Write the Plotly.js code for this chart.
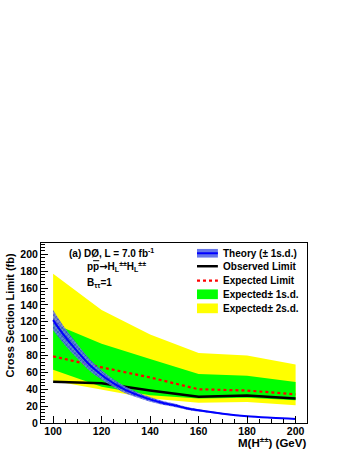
<!DOCTYPE html>
<html>
<head>
<meta charset="utf-8">
<script src="https://cdn.plot.ly/plotly-3.0.1.min.js"></script>
<style>
  html, body { margin: 0; padding: 0; background: #fff; }
  #chart { width: 349px; height: 451px; }
</style>
</head>
<body>
<div id="chart"></div>
<script>
// mass points of the limit (GeV)
const massPoints = [100, 120, 140, 160, 180, 200];
const observedLimit = [49, 47, 38.5, 31, 32.5, 29];
const expectedLimit = [79, 66, 54, 40, 38.5, 34];
const expected1sdLow = [63, 43, 33, 29, 30, 27];
const expected1sdHigh = [118, 94, 76, 58, 56, 48.5];
const expected2sdLow = [50, 39.5, 29, 24, 25, 21];
const expected2sdHigh = [177, 134, 105, 83, 80, 69.5];

// theory cross section (fb)
const theoryMass = [100, 105, 110, 115, 120, 125, 130, 135, 140, 145, 150, 155, 160, 170, 180, 190, 200];
const theoryXsec = [122, 102, 85, 69, 57, 47, 39, 33, 28, 24, 21, 17.5, 15, 11, 8, 6.2, 4.8];
const theoryLow = [110, 92, 76.5, 62, 51.5, 42.5, 35, 29.8, 25.2, 21.6, 19, 15.8, 13.6, 10, 7.3, 5.6, 4.3];
const theoryHigh = [134, 112, 93.5, 76, 62.5, 51.5, 43, 36.2, 30.8, 26.4, 23, 19.2, 16.4, 12, 8.7, 6.8, 5.3];

const legendLabels = ["Theory (\u00b1 1s.d.)", "Observed Limit", "Expected Limit", "Expected\u00b1 1s.d.", "Expected\u00b1 2s.d."];

const font = "Liberation Sans, Arial, Helvetica, sans-serif";

const traces = [
  // 2 s.d. band
  { x: massPoints, y: expected2sdLow, mode: "lines", line: { width: 0 } },
  { x: massPoints, y: expected2sdHigh, mode: "lines", line: { width: 0 }, fill: "tonexty", fillcolor: "#ffff00" },
  // 1 s.d. band
  { x: massPoints, y: expected1sdLow, mode: "lines", line: { width: 0 } },
  { x: massPoints, y: expected1sdHigh, mode: "lines", line: { width: 0 }, fill: "tonexty", fillcolor: "#00ff00" },
  // observed and expected limits
  { x: massPoints, y: observedLimit, mode: "lines", line: { color: "#000", width: 2.5 } },
  { x: massPoints, y: expectedLimit, mode: "lines", line: { color: "#ff0000", width: 2.2, dash: "dot" } },
  // theory band and central value
  { x: theoryMass, y: theoryLow, mode: "lines", line: { width: 0, shape: "spline" } },
  {
    x: theoryMass, y: theoryHigh, mode: "lines", line: { width: 0, shape: "spline" },
    fill: "tonexty", fillcolor: "rgba(70,90,225,0.8)",
    fillpattern: { shape: "x", fgcolor: "#1d2fd0", bgcolor: "rgba(110,125,235,0.85)", size: 3, solidity: 0.35 }
  },
  { x: theoryMass, y: theoryXsec, mode: "lines", line: { color: "#0000ff", width: 2, shape: "spline" } }
];

// hand-drawn legend, ROOT style
const rowY = [0.943, 0.871, 0.791, 0.715, 0.637];
const swX0 = 0.5865, swX1 = 0.665, txtX = 0.676;
const shapes = [
  { type: "rect", xref: "paper", yref: "paper", x0: swX0, x1: swX1, y0: rowY[0] - 0.024, y1: rowY[0] + 0.024,
    fillcolor: "#6676ea", line: { width: 0 } },
  { type: "line", xref: "paper", yref: "paper", x0: swX0, x1: swX1, y0: rowY[0], y1: rowY[0], line: { color: "#0000ff", width: 2 } },
  { type: "line", xref: "paper", yref: "paper", x0: swX0, x1: swX1, y0: rowY[1], y1: rowY[1], line: { color: "#000", width: 2.5 } },
  { type: "line", xref: "paper", yref: "paper", x0: swX0, x1: swX1, y0: rowY[2], y1: rowY[2], line: { color: "#ff0000", width: 2.2, dash: "dot" } },
  { type: "rect", xref: "paper", yref: "paper", x0: swX0, x1: swX1, y0: rowY[3] - 0.027, y1: rowY[3] + 0.027,
    fillcolor: "#00ff00", line: { width: 0 } },
  { type: "rect", xref: "paper", yref: "paper", x0: swX0, x1: swX1, y0: rowY[4] - 0.027, y1: rowY[4] + 0.027,
    fillcolor: "#ffff00", line: { width: 0 } }
];

const annotations = legendLabels.map((t, i) => ({
  xref: "paper", yref: "paper", x: txtX, y: rowY[i], xanchor: "left", yanchor: "middle",
  text: t, showarrow: false, font: { family: font, size: 10, weight: "bold", color: "#000" }
}));

annotations.push(
  { xref: "paper", yref: "paper", x: 0.098, y: 0.946, xanchor: "left", yanchor: "middle", showarrow: false,
    text: "(a) D\u00d8, L = 7.0 fb<sup>-1</sup>", font: { family: font, size: 10, weight: "bold", color: "#000" } },
  { xref: "paper", yref: "paper", x: 0.166, y: 0.868, xanchor: "left", yanchor: "middle", showarrow: false,
    text: "p<span style='text-decoration:overline'>p</span><span style='font-family:DejaVu Sans'>\u2192</span>H<sub>L</sub><sup>\u00b1\u00b1</sup>H<sub>L</sub><sup>\u00b1\u00b1</sup>",
    font: { family: font, size: 10, weight: "bold", color: "#000" } },
  { xref: "paper", yref: "paper", x: 0.166, y: 0.779, xanchor: "left", yanchor: "middle", showarrow: false,
    text: "B<sub>\u03c4\u03c4</sub>=1", font: { family: font, size: 10, weight: "bold", color: "#000" } },
  // axis titles
  { xref: "paper", yref: "paper", x: 1.004, y: -0.155, xanchor: "right", yanchor: "bottom", showarrow: false,
    text: "M(H<sup>\u00b1\u00b1</sup>) (GeV)", font: { family: font, size: 11.5, weight: "bold", color: "#000" } },
  { xref: "paper", yref: "paper", x: -0.115, y: 0.6, xanchor: "center", yanchor: "middle", showarrow: false, textangle: -90,
    text: "Cross Section Limit (fb)", font: { family: font, size: 11, weight: "bold", color: "#000" } }
);

const layout = {
  width: 349,
  height: 451,
  margin: { l: 41, r: 42, t: 243, b: 28 },
  paper_bgcolor: "#fff",
  plot_bgcolor: "#fff",
  showlegend: false,
  font: { family: font, size: 11, color: "#000" },
  xaxis: {
    range: [95, 204.7],
    tickvals: [100, 120, 140, 160, 180, 200],
    ticks: "inside", ticklen: 7, tickcolor: "#000",
    minor: { dtick: 5, tick0: 100, ticks: "inside", ticklen: 4, tickcolor: "#000" },
    showgrid: false, zeroline: false,
    showline: true, linecolor: "#000", linewidth: 1, mirror: true,
    ticklabelstandoff: -2,
    tickfont: { family: font, size: 10.5, weight: "bold" }
  },
  yaxis: {
    range: [0, 213.4],
    dtick: 20, tick0: 0,
    ticks: "inside", ticklen: 7, tickcolor: "#000",
    minor: { dtick: 4, ticks: "inside", ticklen: 4, tickcolor: "#000" },
    showgrid: false, zeroline: false,
    showline: true, linecolor: "#000", linewidth: 1, mirror: true,
    tickfont: { family: font, size: 10.5, weight: "bold" }
  },
  shapes: shapes,
  annotations: annotations
};

Plotly.newPlot("chart", traces, layout, { displayModeBar: false, staticPlot: true });
</script>
</body>
</html>
